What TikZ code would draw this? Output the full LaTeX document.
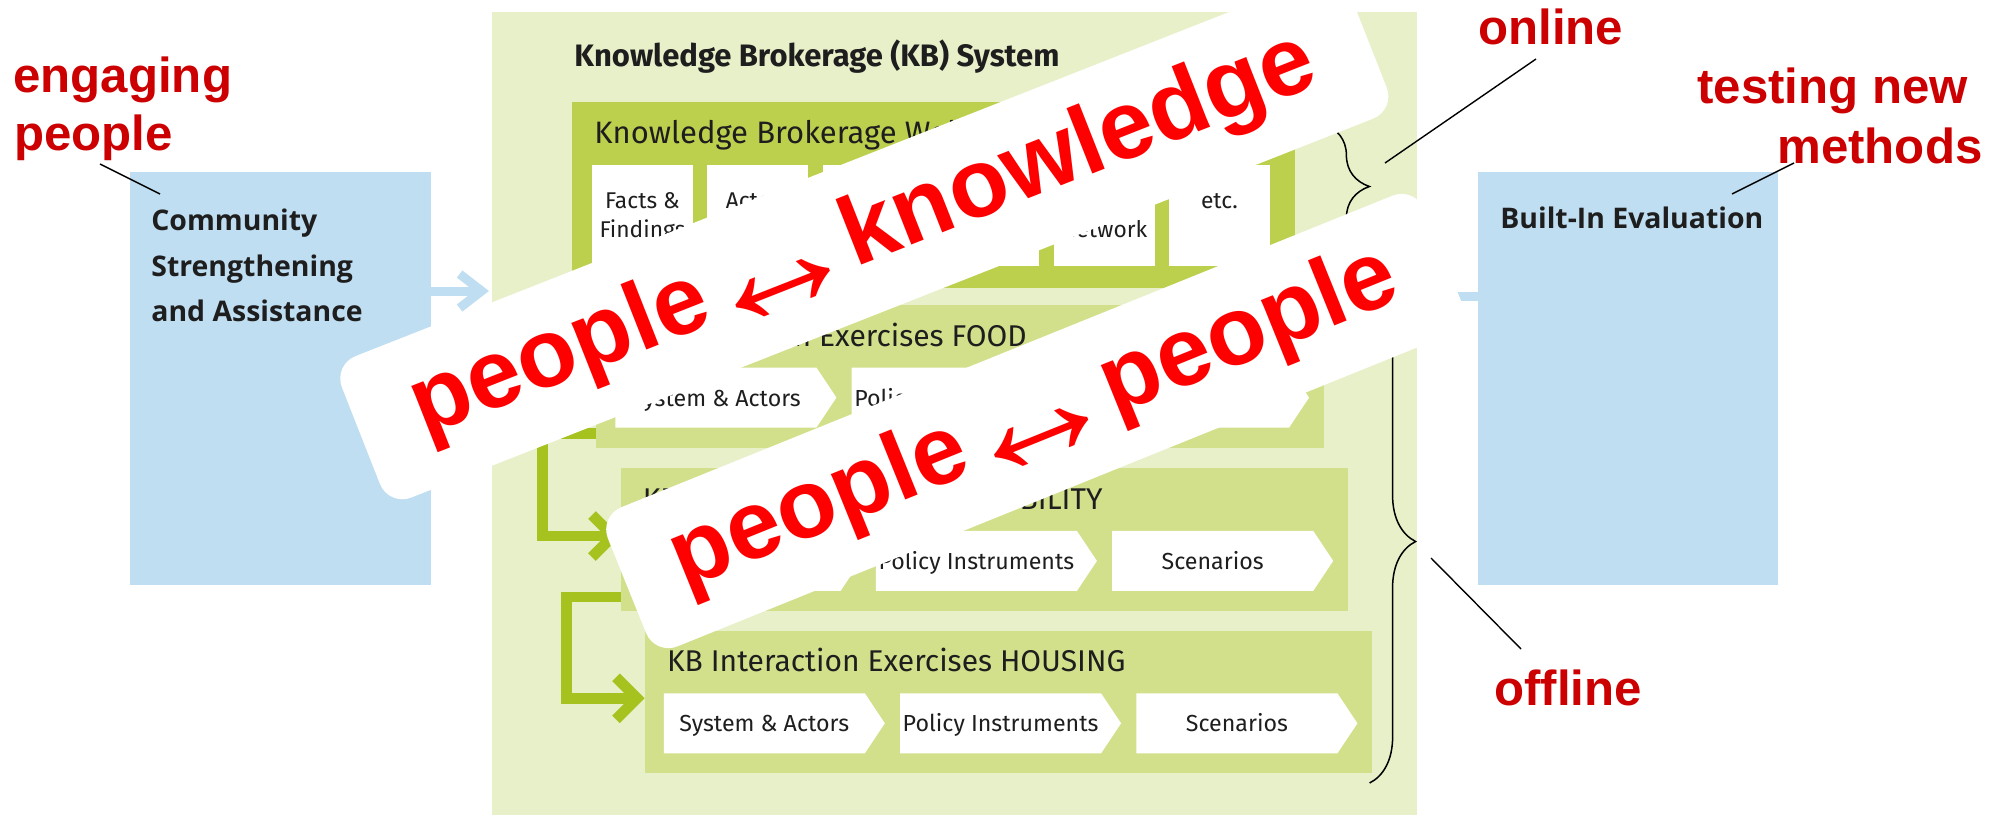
\documentclass[tikz,border=0pt]{standalone}
\usepackage{fontspec}
\usepackage{graphicx}
\setmainfont{Fira Sans}
\newfontfamily\arialfont{Liberation Sans}
\newfontfamily\opensansfont{Open Sans}
\usetikzlibrary{decorations.pathreplacing}
\definecolor{bluebox}{HTML}{C0DEF2}
\definecolor{panelgreen}{HTML}{E7F0C8}
\definecolor{kbgreen}{HTML}{BDD04E}
\definecolor{groupgreen}{HTML}{D3E08B}
\definecolor{arrowgreen}{HTML}{A6C21E}
\definecolor{labelred}{HTML}{CC0000}
\definecolor{bannerred}{HTML}{FF0000}
\definecolor{darktext}{HTML}{1E1E1E}
\newcommand\kbsignal[4]{%
  \fill[white] (#2,#3) -- ++(201,0) -- ++(20,30) -- ++(-20,30) -- ++(-201,0) -- cycle;
  \node[boxtext] (#1) at ({#2+100.5},{#3+38.4}) {#4};
}
\newcommand\bigdarrow{{\ooalign{\phantom{↔}\cr\hidewidth\raisebox{-0.22em}{\scalebox{1.75}{↔}}\hidewidth\cr}}}
\begin{document}
\begin{tikzpicture}[x=0.5pt,y=-0.5pt,
  plainbox/.style={anchor=north west, inner sep=0pt, outer sep=0pt, draw=none},
  redlabel/.style={anchor=base west, inner sep=0pt, text=labelred, font=\arialfont\bfseries\fontsize{24.6}{28}\selectfont},
  bluetext/.style={anchor=base west, inner sep=0pt, text=darktext, font=\opensansfont\bfseries\fontsize{14.2}{17}\selectfont},
  kbtitle/.style={anchor=base west, inner sep=0pt, text=darktext, font=\bfseries\fontsize{15.5}{18}\selectfont},
  grouptitle/.style={anchor=base west, inner sep=0pt, text=darktext, font=\fontsize{15}{18}\selectfont},
  webtitle/.style={anchor=base west, inner sep=0pt, text=darktext, font=\fontsize{15.5}{18}\selectfont},
  boxtext/.style={anchor=base, inner sep=0pt, text=darktext, font=\fontsize{11.6}{14}\selectfont},
  smalltext/.style={anchor=base, inner sep=0pt, text=darktext, font=\fontsize{11.4}{14}\selectfont},
  bluearrow/.style={draw=bluebox, line width=4.5pt, line cap=butt, line join=miter},
  greenline/.style={draw=arrowgreen, line width=5.35pt, line cap=butt, line join=miter},
  leader/.style={draw=black, line width=0.7pt},
  bracestyle/.style={draw=black, line width=0.75pt, decorate, decoration={brace, amplitude=23pt}},
  banner/.style={fill=white, rounded corners=12pt, inner sep=0pt, text=bannerred, font=\arialfont\bfseries\fontsize{48.5}{50}\selectfont}
]
\useasboundingbox (0,0) rectangle (2004,815);
\fill[white] (0,0) rectangle (2004,815);

% main panel
\node[plainbox, fill=panelgreen, minimum width=462.5pt, minimum height=401.5pt] (kbsystem) at (492,12) {};
\node[kbtitle] (kbsystemTitle) at (574,66.7) {Knowledge Brokerage (KB) System};

% web platform box
\node[plainbox, fill=kbgreen, minimum width=361.5pt, minimum height=93pt] (kbweb) at (572,102) {};
\node[webtitle] (kbwebTitle) at (594,143) {Knowledge Brokerage Web Platform};
\foreach \i/\x in {1/592,2/707.4,3/822.8,4/938.2,5/1053.6,6/1169}{
  \node[plainbox, fill=white, minimum width=50.5pt, minimum height=50.3pt] (web\i) at (\x,165) {};
}
\node[smalltext] (facts1) at (642.5,208) {Facts \&};
\node[smalltext] (facts2) at (642.5,237) {Findings};
\node[smalltext] (actors) at (757.9,208) {Actors};
\node[smalltext] (network) at (1104.1,237) {Network};
\node[smalltext] (etc) at (1219.5,208) {etc.};

% groups
\node[plainbox, fill=groupgreen, minimum width=363.75pt, minimum height=71.35pt] (food) at (596.4,305) {};
\node[plainbox, fill=groupgreen, minimum width=363.75pt, minimum height=71.35pt] (mobility) at (620.6,468.3) {};
\node[plainbox, fill=groupgreen, minimum width=363.75pt, minimum height=71.35pt] (housing) at (644.8,630.7) {};
\node[grouptitle] (foodTitle) at (618.2,346) {KB Interaction Exercises FOOD};
\node[grouptitle] (mobilityTitle) at (642.4,509.3) {KB Interaction Exercises MOBILITY};
\node[grouptitle] (housingTitle) at (666.6,671.7) {KB Interaction Exercises HOUSING};
\kbsignal{foodA}{615.4}{367.6}{System \& Actors}
\kbsignal{foodB}{851.7}{367.6}{Policy Instruments}
\kbsignal{foodC}{1088}{367.6}{Scenarios}
\kbsignal{mobA}{639.6}{530.9}{System \& Actors}
\kbsignal{mobB}{875.9}{530.9}{Policy Instruments}
\kbsignal{mobC}{1112.2}{530.9}{Scenarios}
\kbsignal{houA}{663.8}{693.3}{System \& Actors}
\kbsignal{houB}{900.1}{693.3}{Policy Instruments}
\kbsignal{houC}{1136.4}{693.3}{Scenarios}

% green connectors
\coordinate (mobTip) at (613,536);
\coordinate (houTip) at (637,698.3);
\draw[greenline] ([yshift=7pt]food.south west) -- ++(-54,0) |- (mobTip);
\draw[greenline] (mobTip) ++(-21,-21) -- (mobTip) -- ++(-21,21);
\draw[greenline] ([yshift=7pt]mobility.south west) -- ++(-54.3,0) |- (houTip);
\draw[greenline] (houTip) ++(-21,-21) -- (houTip) -- ++(-21,21);

% side boxes
\node[plainbox, fill=bluebox, minimum width=150.5pt, minimum height=206.5pt] (community) at (130,172) {};
\node[bluetext] (comm1) at (151,230) {Community};
\node[bluetext] (comm2) at (151,276) {Strengthening};
\node[bluetext] (comm3) at (151,321.7) {and Assistance};
\node[plainbox, fill=bluebox, minimum width=150pt, minimum height=206.5pt] (evaluation) at (1478,172) {};
\node[bluetext] (evalText) at (1500,228.3) {Built-In Evaluation};

% blue arrows
\coordinate (leftTip) at (481.6,291);
\draw[bluearrow] (community.east |- leftTip) -- (leftTip);
\draw[bluearrow] (leftTip) ++(-22,-17) -- (leftTip) -- ++(-22,17);
\coordinate (rightTip) at (1424.5,296);
\draw[bluearrow] (evaluation.west |- rightTip) -- (rightTip);
\draw[bluearrow] (rightTip) ++(22,-17) -- (rightTip) -- ++(22,17);

% braces
\draw[bracestyle] (1323.4,124) -- (1323.4,249);
\draw[bracestyle] (1369.6,300) -- (1369.6,783);

% leaders
\coordinate (engA) at (100,164); \coordinate (engB) at (160,194);
\coordinate (onA) at (1536,59); \coordinate (onB) at (1385,163);
\coordinate (tesA) at (1794,163); \coordinate (tesB) at (1732,194);
\coordinate (offA) at (1431,558); \coordinate (offB) at (1521,649);
\draw[leader] (engA) -- (engB);
\draw[leader] (onA) -- (onB);
\draw[leader] (tesA) -- (tesB);
\draw[leader] (offA) -- (offB);

% banners
\node[banner, rotate=21.5, minimum width=541pt, minimum height=76pt] (bannerKnowledge) at (864.3,237.4) {people \bigdarrow{} knowledge};
\node[banner, rotate=22, minimum width=440pt, minimum height=75pt] (bannerPeople) at (1035,421) {people \bigdarrow{} people};

% red labels
\node[redlabel] (lblEngaging) at (13,92) {engaging};
\node[redlabel] (lblPeople) at (14,150) {people};
\node[redlabel] (lblOnline) at (1478,44) {online};
\node[redlabel] (lblTesting) at (1697,103.5) {testing new};
\node[redlabel] (lblMethods) at (1777,163.4) {methods};
\node[redlabel] (lblOffline) at (1494,705) {offline};
\end{tikzpicture}
\end{document}
